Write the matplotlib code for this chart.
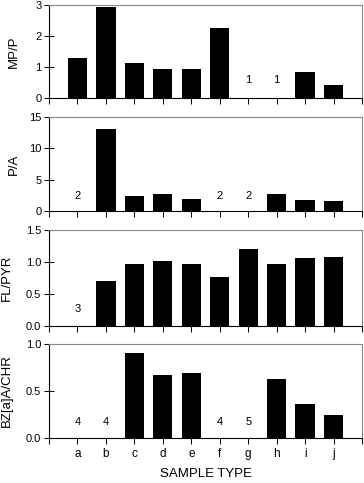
import matplotlib.pyplot as plt
import numpy as np

plt.rcParams['font.family'] = ['Liberation Sans', 'DejaVu Sans']

samples = ['a', 'b', 'c', 'd', 'e', 'f', 'g', 'h', 'i', 'j']

# ratio values per sample; None = no bar (footnote shown instead)
mp_p = [1.29, 2.93, 1.13, 0.93, 0.93, 2.25, None, None, 0.84, 0.42]
p_a = [None, 13.1, 2.45, 2.7, 1.85, None, None, 2.7, 1.75, 1.6]
fl_pyr = [None, 0.71, 0.97, 1.02, 0.97, 0.76, 1.20, 0.97, 1.07, 1.08]
bza_chr = [None, None, 0.90, 0.67, 0.69, None, None, 0.625, 0.36, 0.25]

notes_mp = {'g': '1', 'h': '1'}
notes_pa = {'a': '2', 'f': '2', 'g': '2'}
notes_fl = {'a': '3'}
notes_bz = {'a': '4', 'b': '4', 'f': '4', 'g': '5'}

W, H = 364, 483
fig = plt.figure(figsize=(W / 100, H / 100), dpi=100)

panels = [
    # values, notes, label, ylim, yticks, ticklabels, note height, top px, bottom px, label px
    (mp_p, notes_mp, 'MP/P', 3, [0, 1, 2, 3], ['0', '1', '2', '3'], 0.59, 5, 98, 20),
    (p_a, notes_pa, 'P/A', 15, [0, 5, 10, 15], ['0', '5', '10', '15'], 2.4, 117, 211, 20),
    (fl_pyr, notes_fl, 'FL/PYR', 1.5, [0, 0.5, 1.0, 1.5], ['0.0', '0.5', '1.0', '1.5'], 0.26, 230, 326, 13),
    (bza_chr, notes_bz, 'BZ[a]A/CHR', 1.0, [0, 0.5, 1.0], ['0.0', '0.5', '1.0'], 0.17, 344, 438, 13),
]

x = np.arange(1, len(samples) + 1)
left, right = 49, 362

for i, (vals, notes, lab, ymax, yt, ytl, ny, top, bot, lx) in enumerate(panels):
    ax = fig.add_axes([left / W, 1 - bot / H, (right - left) / W, (bot - top) / H])
    heights = [v if v is not None else 0 for v in vals]
    ax.bar(x, heights, width=0.68, color='black')
    for s, t in notes.items():
        ax.text(samples.index(s) + 1, ny, t, ha='center', va='center', fontsize=8)
    ax.set_xlim(0, 11)
    ax.set_ylim(0, ymax)
    ax.set_yticks(yt)
    ax.set_yticklabels(ytl, fontsize=8)
    ax.set_xticks(np.arange(0, 12))
    if i == 3:
        ax.set_xticklabels([''] + samples + [''], fontsize=8.5)
        ax.set_xlabel('SAMPLE TYPE', fontsize=9.5, labelpad=6)
    else:
        ax.set_xticklabels([])
    ax.tick_params(axis='x', direction='out', length=4, width=0.7, pad=3)
    ax.tick_params(axis='y', direction='inout', length=7, width=0.7, pad=2)
    ax.set_ylabel(lab, fontsize=9.5)
    ax.yaxis.set_label_coords((lx - left) / (right - left), 0.5)
    ax.spines['left'].set_linewidth(0.8)
    ax.spines['bottom'].set_linewidth(0.8)
    ax.spines['top'].set_color('#888888')
    ax.spines['right'].set_color('#888888')
    ax.spines['top'].set_linewidth(0.8)
    ax.spines['right'].set_linewidth(0.8)

fig.savefig('out.png', dpi=100)
